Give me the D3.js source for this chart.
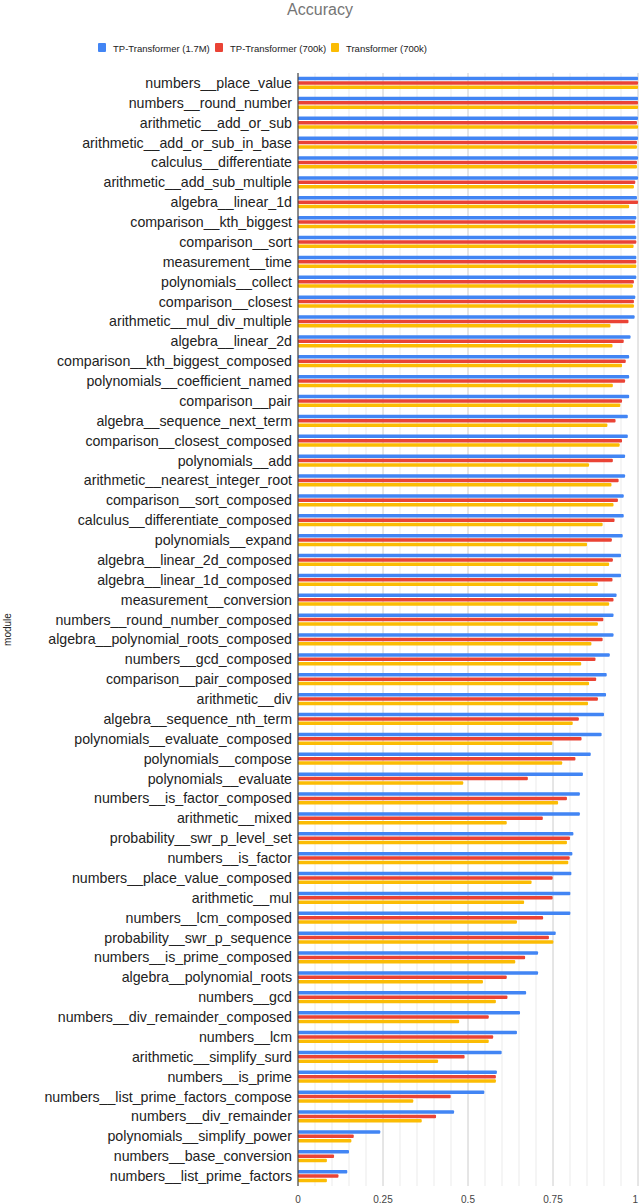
<!DOCTYPE html>
<html>
<head>
<meta charset="utf-8">
<script src="https://cdn.jsdelivr.net/npm/d3@7"></script>
<style>
  body { margin: 0; background: #fff; }
  text { font-family: "Liberation Sans", Arial, sans-serif; }
</style>
</head>
<body>
<svg id="chart" width="640" height="1204"></svg>
<script>
const modules = [
  "numbers__place_value", "numbers__round_number", "arithmetic__add_or_sub",
  "arithmetic__add_or_sub_in_base", "calculus__differentiate", "arithmetic__add_sub_multiple",
  "algebra__linear_1d", "comparison__kth_biggest", "comparison__sort", "measurement__time",
  "polynomials__collect", "comparison__closest", "arithmetic__mul_div_multiple",
  "algebra__linear_2d", "comparison__kth_biggest_composed", "polynomials__coefficient_named",
  "comparison__pair", "algebra__sequence_next_term", "comparison__closest_composed",
  "polynomials__add", "arithmetic__nearest_integer_root", "comparison__sort_composed",
  "calculus__differentiate_composed", "polynomials__expand", "algebra__linear_2d_composed",
  "algebra__linear_1d_composed", "measurement__conversion", "numbers__round_number_composed",
  "algebra__polynomial_roots_composed", "numbers__gcd_composed", "comparison__pair_composed",
  "arithmetic__div", "algebra__sequence_nth_term", "polynomials__evaluate_composed",
  "polynomials__compose", "polynomials__evaluate", "numbers__is_factor_composed",
  "arithmetic__mixed", "probability__swr_p_level_set", "numbers__is_factor",
  "numbers__place_value_composed", "arithmetic__mul", "numbers__lcm_composed",
  "probability__swr_p_sequence", "numbers__is_prime_composed", "algebra__polynomial_roots",
  "numbers__gcd", "numbers__div_remainder_composed", "numbers__lcm",
  "arithmetic__simplify_surd", "numbers__is_prime", "numbers__list_prime_factors_compose",
  "numbers__div_remainder", "polynomials__simplify_power", "numbers__base_conversion",
  "numbers__list_prime_factors"
];

const tp17M = [
  1.0, 1.0, 1.0, 1.0, 1.0, 1.0, 0.997, 0.995, 0.995, 0.995,
  0.995, 0.992, 0.99, 0.978, 0.974, 0.974, 0.974, 0.97, 0.97, 0.962,
  0.962, 0.958, 0.958, 0.955, 0.95, 0.95, 0.937, 0.928, 0.928, 0.917,
  0.908, 0.906, 0.9, 0.893, 0.861, 0.838, 0.829, 0.829, 0.81, 0.807,
  0.804, 0.801, 0.801, 0.758, 0.706, 0.706, 0.671, 0.653, 0.644, 0.599,
  0.585, 0.548, 0.459, 0.242, 0.15, 0.145
];

const tp700k = [
  1.0, 1.0, 0.997, 0.997, 0.997, 0.992, 1.0, 0.992, 0.995, 0.995,
  0.988, 0.988, 0.972, 0.958, 0.964, 0.962, 0.953, 0.934, 0.953, 0.926,
  0.943, 0.941, 0.931, 0.923, 0.926, 0.925, 0.928, 0.898, 0.896, 0.875,
  0.877, 0.882, 0.826, 0.834, 0.816, 0.676, 0.791, 0.72, 0.8, 0.799,
  0.749, 0.749, 0.721, 0.738, 0.668, 0.614, 0.616, 0.561, 0.574, 0.49,
  0.582, 0.449, 0.406, 0.164, 0.106, 0.119
];

const tf700k = [
  1.0, 1.0, 1.0, 0.997, 0.997, 0.988, 0.974, 0.992, 0.987, 0.995,
  0.985, 0.988, 0.919, 0.925, 0.953, 0.926, 0.948, 0.91, 0.946, 0.856,
  0.922, 0.928, 0.896, 0.85, 0.915, 0.882, 0.915, 0.882, 0.863, 0.833,
  0.856, 0.853, 0.808, 0.748, 0.777, 0.486, 0.765, 0.614, 0.791, 0.795,
  0.687, 0.665, 0.644, 0.751, 0.639, 0.544, 0.582, 0.474, 0.561, 0.412,
  0.582, 0.339, 0.364, 0.157, 0.085, 0.085
];

const seriesNames = ["TP-Transformer (1.7M)", "TP-Transformer (700k)", "Transformer (700k)"];
const seriesColors = ["#4285f4", "#ea4335", "#fbbc04"];
const xTicks = [0, 0.25, 0.5, 0.75, 1];

const margin = { top: 73, right: 2, bottom: 18, left: 298 };
const W = 640, H = 1204;
const svg = d3.select("#chart");

const x = d3.scaleLinear().domain([0, 1]).range([margin.left, W - margin.right]);
const y = d3.scaleBand().domain(modules).range([margin.top, H - margin.bottom]).paddingInner(0.38).paddingOuter(0.19);
const sub = d3.scaleBand().domain(seriesNames).range([0, y.bandwidth()]).paddingInner(0.2);

// gridlines
const minor = d3.range(0, 1.0001, 0.05);
svg.append("g").selectAll("line").data(minor).join("line")
  .attr("x1", d => x(d)).attr("x2", d => x(d))
  .attr("y1", margin.top).attr("y2", H - margin.bottom)
  .attr("stroke", (d, i) => i % 5 === 0 ? "#cccccc" : "#ebebeb")
  .attr("stroke-width", 1);

// bars
const rows = modules.map((m, i) => ({ m, vals: [tp17M[i], tp700k[i], tf700k[i]] }));
svg.append("g").selectAll("g").data(rows).join("g")
  .attr("transform", d => `translate(0,${y(d.m)})`)
  .selectAll("rect").data(d => d.vals.map((v, j) => ({ v, j })))
  .join("rect")
  .attr("x", x(0))
  .attr("y", d => sub(seriesNames[d.j]))
  .attr("width", d => x(d.v) - x(0))
  .attr("height", sub.bandwidth())
  .attr("rx", 1)
  .attr("fill", d => seriesColors[d.j]);

// baseline
svg.append("line")
  .attr("x1", x(0)).attr("x2", x(0))
  .attr("y1", margin.top).attr("y2", H - margin.bottom)
  .attr("stroke", "#333").attr("stroke-width", 1);

// category labels
svg.append("g").selectAll("text").data(modules).join("text")
  .attr("x", x(0) - 6)
  .attr("y", d => y(d) + y.bandwidth() / 2)
  .attr("dy", "0.35em")
  .attr("text-anchor", "end")
  .attr("font-size", 14.2)
  .attr("fill", "#222")
  .text(d => d);

// x tick labels
svg.append("g").selectAll("text").data(xTicks).join("text")
  .attr("x", d => x(d))
  .attr("y", H - 1)
  .attr("text-anchor", (d, i) => i === xTicks.length - 1 ? "end" : "middle")
  .attr("font-size", 10)
  .attr("fill", "#444")
  .text(d => d);

// title
svg.append("text")
  .attr("x", 320).attr("y", 15)
  .attr("text-anchor", "middle")
  .attr("font-size", 16)
  .attr("fill", "#757575")
  .text("Accuracy");

// y axis title
svg.append("text")
  .attr("transform", `translate(11,${(margin.top + H - margin.bottom) / 2}) rotate(-90)`)
  .attr("text-anchor", "middle")
  .attr("font-size", 10)
  .attr("fill", "#222")
  .text("module");

// legend
const legendX = [98, 215, 331];
const legend = svg.append("g").selectAll("g").data(seriesNames).join("g")
  .attr("transform", (d, i) => `translate(${legendX[i]},43)`);
legend.append("rect").attr("width", 8).attr("height", 9).attr("rx", 1)
  .attr("fill", (d, i) => seriesColors[i]);
legend.append("text").attr("x", 15).attr("y", 8.5)
  .attr("font-size", 9.5).attr("fill", "#222")
  .text(d => d);
</script>
</body>
</html>
